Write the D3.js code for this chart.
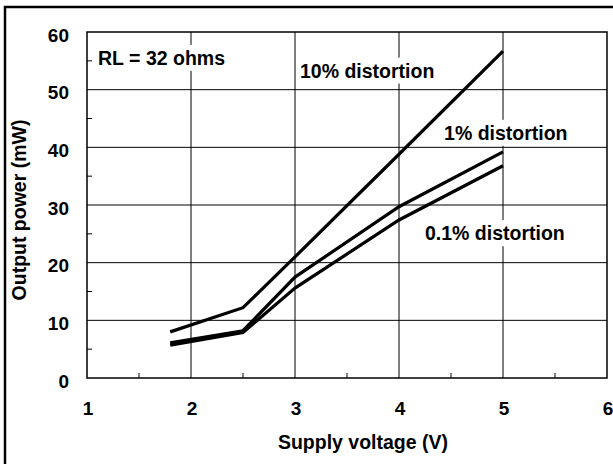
<!DOCTYPE html>
<html><head><meta charset="utf-8">
<script src="https://cdn.jsdelivr.net/npm/d3@7"></script>
<style>body{margin:0;background:#fff;}svg{display:block;}</style>
</head><body>
<svg id="c" width="613" height="464"></svg>
<script>
const voltage = [1.8, 2.5, 3, 4, 5];
const dist10 = [8.0, 12.2, 21.0, 38.8, 56.7];
const dist1 = [6.1, 8.2, 17.5, 29.7, 39.2];
const dist01 = [5.7, 7.9, 15.6, 27.4, 36.8];
const xTicks = [1, 2, 3, 4, 5, 6];
const yTicks = [0, 10, 20, 30, 40, 50, 60];
const xMinor = [1.5, 2.5, 3.5, 4.5, 5.5];
const yMinor = [5, 15, 25, 35, 45, 55];
const labels = [
  {text: "RL = 32 ohms", x: 1.106, y: 54.3},
  {text: "10% distortion", x: 3.048, y: 52.1},
  {text: "1% distortion", x: 4.433, y: 41.3},
  {text: "0.1% distortion", x: 4.25, y: 23.9}
];
const seriesNames = ["10% distortion", "1% distortion", "0.1% distortion"];

const svg = d3.select("#c");
const L = 87, R = 607, T = 32, B = 378;
const x = d3.scaleLinear().domain([1, 6]).range([L, R]);
const y = d3.scaleLinear().domain([0, 60]).range([B, T]);
const font = "'Liberation Sans', Arial, sans-serif";
const FS = 19.5;

// outer frame
svg.append("rect").attr("x", 5).attr("y", 7).attr("width", 700).attr("height", 600)
  .attr("fill", "none").attr("stroke", "#000").attr("stroke-width", 2.5);

// grid
const g = svg.append("g");
g.selectAll(".gx").data(xTicks.slice(1, -1)).join("line")
  .attr("x1", d => x(d)).attr("x2", d => x(d)).attr("y1", T).attr("y2", B)
  .attr("stroke", "#000").attr("stroke-width", 1);
g.selectAll(".gy").data(yTicks.slice(1, -1)).join("line")
  .attr("y1", d => y(d)).attr("y2", d => y(d)).attr("x1", L).attr("x2", R)
  .attr("stroke", "#000").attr("stroke-width", 1);
// minor ticks
g.selectAll(".mx").data(xMinor).join("line")
  .attr("x1", d => x(d)).attr("x2", d => x(d)).attr("y1", B).attr("y2", B - 5)
  .attr("stroke", "#000").attr("stroke-width", 1);
g.selectAll(".my").data(yMinor).join("line")
  .attr("y1", d => y(d)).attr("y2", d => y(d)).attr("x1", L).attr("x2", L + 5)
  .attr("stroke", "#000").attr("stroke-width", 1);

// plot border
svg.append("rect").attr("x", L).attr("y", T).attr("width", R - L).attr("height", B - T)
  .attr("fill", "none").attr("stroke", "#000").attr("stroke-width", 1.5);

// labels with white background
const lg = svg.append("g");
labels.forEach(l => {
  const t = lg.append("text").attr("x", x(l.x)).attr("y", y(l.y))
    .attr("font-family", font).attr("font-weight", "bold").attr("font-size", FS)
    .attr("fill", "#000").text(l.text);
  const bb = t.node().getBBox();
  lg.insert("rect", "text").attr("x", bb.x - 3).attr("y", bb.y - 2)
    .attr("width", bb.width + 6).attr("height", bb.height + 4).attr("fill", "#fff");
});

// series lines
const line = d3.line().x((d, i) => x(voltage[i])).y(d => y(d));
[dist10, dist1, dist01].forEach((s, i) => {
  svg.append("path").datum(s).attr("d", line).attr("fill", "none")
    .attr("stroke", "#000").attr("stroke-width", 3.2).attr("data-name", seriesNames[i]);
});

// tick labels
svg.selectAll(".xt").data(xTicks).join("text")
  .attr("x", d => x(d) + 1).attr("y", 415).attr("text-anchor", "middle")
  .attr("font-family", font).attr("font-weight", "bold").attr("font-size", 19).text(d => d);
svg.selectAll(".yt").data(yTicks).join("text")
  .attr("x", 69).attr("y", d => y(d) + 9.5).attr("text-anchor", "end")
  .attr("font-family", font).attr("font-weight", "bold").attr("font-size", 19).text(d => d);

// axis titles
svg.append("text").attr("x", 363).attr("y", 449).attr("text-anchor", "middle")
  .attr("font-family", font).attr("font-weight", "bold").attr("font-size", FS).text("Supply voltage (V)");
svg.append("text").attr("transform", "translate(26,210) rotate(-90)").attr("text-anchor", "middle")
  .attr("font-family", font).attr("font-weight", "bold").attr("font-size", FS).text("Output power (mW)");
</script>
</body></html>
